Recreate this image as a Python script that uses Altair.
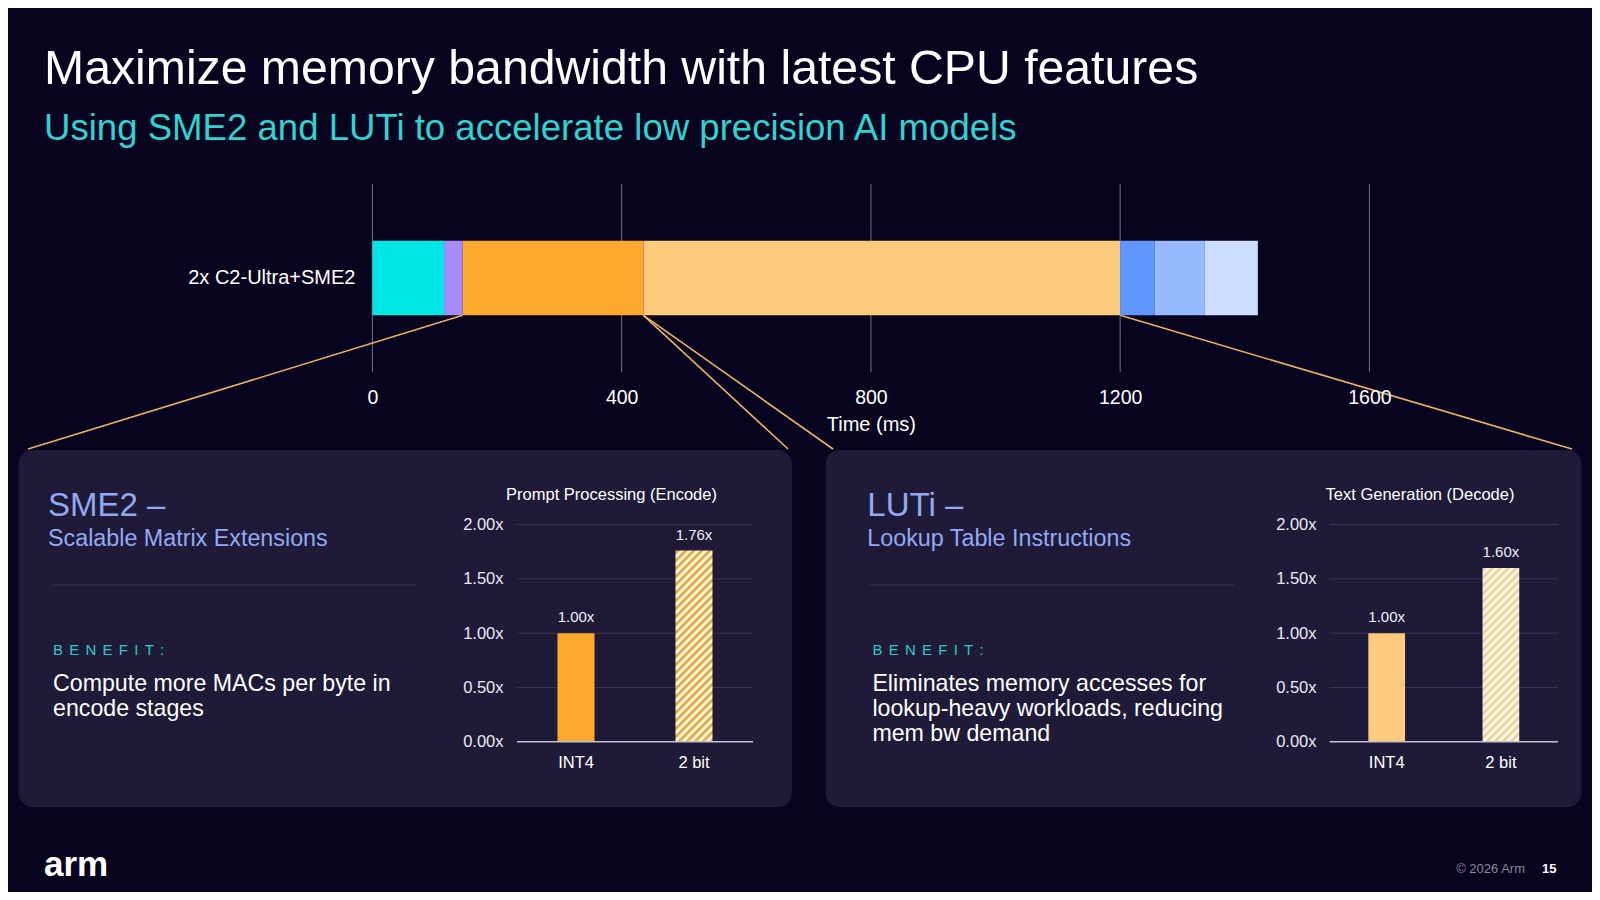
import math
import altair as alt
import pandas as pd

# ---------------- data ----------------
seg_names = ["Stage A", "Stage B", "Encode", "Decode", "Stage E", "Stage F", "Stage G"]
seg_ms = [115, 30, 290, 765, 55, 81, 85]
row_label = "2x C2-Ultra+SME2"
time_ticks = [0, 400, 800, 1200, 1600]

categories = ["INT4", "2 bit"]
encode_speedup = [1.00, 1.76]
decode_speedup = [1.00, 1.60]
speed_ticks = [0.0, 0.5, 1.0, 1.5, 2.0]

# ---------------- style ----------------
FONT = "Liberation Sans"
BG = "#08041F"
PANEL = "#1E1A37"
HEAD = "#94A9F3"
TEAL = "#2CCBCB"
SUB = "#2FD3D0"
WHITE = "#FFFFFF"
seg_colors = ["#00E6E6", "#A48CF9", "#FBA92F", "#FCCB7E", "#6196FE", "#97B9FE", "#CCDDFF"]

W, H = 1584, 884
ONE = alt.Data(values=[{"k": 0}])

# top timeline geometry (canvas px)
TX0, TX1 = 364.4, 1361.4
BAR_Y0, BAR_Y1 = 232.8, 307.3
px_per_ms = (TX1 - TX0) / 1600.0

# small chart geometry
SY0, SY2 = 733.8, 516.5          # pixel of 0.00x and 2.00x
px_per_unit = (SY0 - SY2) / 2.0


def txt(s, x, y, size, color, align="left", baseline="middle", weight="normal", lh=None):
    kw = dict(text=s, fontSize=size, color=color, align=align, baseline=baseline,
              fontWeight=weight, font=FONT)
    if lh:
        kw["lineHeight"] = lh
    return alt.Chart(ONE).mark_text(**kw).encode(x=alt.value(x), y=alt.value(y))


def hatch(w, h, c1, c2, period=8.0):
    a = w / h
    s = (a + 1) / (a * a + 1)
    n = (w + h) / period
    stops = []
    for i in range(int(math.ceil(n))):
        o0 = min(i / n, 1.0)
        o1 = min((i + 0.5) / n, 1.0)
        o2 = min((i + 1) / n, 1.0)
        stops += [(o0, c1), (o1, c1), (o1, c2), (o2, c2)]
    return alt.LinearGradient(
        gradient="linear", x1=0, y1=0, x2=a * s, y2=s,
        stops=[alt.GradientStop(offset=o, color=c) for o, c in stops])


# ---------------- panels ----------------
def panel(x0, x1):
    return alt.Chart(ONE).mark_rect(cornerRadius=14, color=PANEL).encode(
        x=alt.value(x0), x2=alt.value(x1), y=alt.value(442), y2=alt.value(799))


def divider(x0, x1):
    return alt.Chart(ONE).mark_rule(color="#3A3559", strokeWidth=1.2).encode(
        x=alt.value(x0), x2=alt.value(x1), y=alt.value(577))


# ---------------- top timeline ----------------
seg_df = pd.DataFrame({"seg": seg_names, "ms": seg_ms, "idx": list(range(len(seg_ms))),
                       "row": [row_label] * len(seg_ms)})
ends = pd.Series(seg_ms).cumsum().tolist()
conn_targets_px = [20.0, 780.0, 825.0, 1564.0]
conn_df = pd.DataFrame({
    "from_ms": [ends[1], ends[2], ends[2], ends[3]],
    "to_ms": [(p - TX0) / px_per_ms for p in conn_targets_px],
})
tick_df = pd.DataFrame({"t": time_ticks})

xs_top = alt.Scale(domain=[0, 1600], range=[TX0, TX1], nice=False, zero=False)
ys_top = alt.Scale(domain=[row_label], range=[BAR_Y0, BAR_Y1], paddingInner=0, paddingOuter=0)

top_xaxis = alt.Axis(orient="bottom", offset=389 - H, values=time_ticks, format="d",
                     ticks=False, tickSize=0, domain=False, grid=False, labelPadding=0,
                     labelBaseline="middle", labelFontSize=19.5, labelColor=WHITE,
                     labelFont=FONT, labelFlush=False, labelOverlap=False, zindex=2,
                     title="Time (ms)", titleFontSize=20, titleFontWeight="normal",
                     titleColor=WHITE, titleFont=FONT, titleY=27.5,
                     titleBaseline="middle")
top_yaxis = alt.Axis(orient="left", offset=-347, ticks=False, tickSize=0, domain=False,
                     grid=False, labelPadding=0, labelAlign="right", zindex=2,
                     labelBaseline="middle", labelFontSize=20, labelColor=WHITE,
                     labelFont=FONT, title=None)

top_grid = alt.Chart(tick_df).mark_rule(color="#75728A", strokeWidth=1).encode(
    x=alt.X("t:Q", scale=xs_top, axis=top_xaxis),
    y=alt.value(176), y2=alt.value(364))

top_bar = alt.Chart(seg_df).mark_bar().encode(
    x=alt.X("ms:Q", stack="zero", scale=xs_top, axis=top_xaxis),
    y=alt.Y("row:N", scale=ys_top, axis=top_yaxis),
    color=alt.Color("seg:N", scale=alt.Scale(domain=seg_names, range=seg_colors), legend=None),
    order=alt.Order("idx:Q"),
)

connectors = alt.Chart(conn_df).mark_rule(color="#E9B266", strokeWidth=1.6).encode(
    x=alt.X("from_ms:Q", scale=xs_top, axis=top_xaxis),
    x2="to_ms:Q",
    y=alt.value(BAR_Y1), y2=alt.value(441))

top_layer = alt.layer(top_grid, connectors, top_bar)


# ---------------- small charts ----------------
def small_chart(values, x0, x1, label_right, bar_w, solid, stripe_c, stripe_bg):
    df = pd.DataFrame({"cat": categories, "val": values})
    xs = alt.Scale(domain=categories, range=[x0, x1], paddingInner=0, paddingOuter=0)
    ys = alt.Scale(domain=[0, 2], range=[SY0, SY2], nice=False, zero=True)
    xaxis = alt.Axis(orient="bottom", offset=754 - H, ticks=False, tickSize=0, domain=False,
                     grid=False, labelPadding=0, labelBaseline="middle", labelFontSize=16.5,
                     labelColor=WHITE, labelFont=FONT, labelAngle=0, title=None, zindex=2)
    yaxis = alt.Axis(orient="left", offset=-label_right, values=speed_ticks, ticks=False,
                     tickSize=0, domain=False, grid=False, labelPadding=0,
                     labelAlign="right", labelBaseline="middle", labelFontSize=16.5,
                     labelColor="#ECEAF4", labelFont=FONT, labelOverlap=False, zindex=2,
                     labelExpr="format(datum.value, '.2f') + 'x'", title=None)
    X = alt.X("cat:N", scale=xs, axis=xaxis, sort=categories)
    Y = alt.Y("val:Q", scale=ys, axis=yaxis)
    grid = alt.Chart(pd.DataFrame({"val": speed_ticks[1:]})).mark_rule(
        color="#3A3657", strokeWidth=1).encode(
        y=Y, x=alt.value(x0), x2=alt.value(x1))
    base = alt.Chart(pd.DataFrame({"val": [0.0]})).mark_rule(
        color="#C4C0D4", strokeWidth=1.5).encode(
        y=Y, x=alt.value(x0), x2=alt.value(x1))
    b1 = alt.Chart(df).transform_filter(alt.datum.cat == categories[0]).mark_bar(
        size=bar_w, color=solid).encode(x=X, y=Y)
    h2 = values[1] * px_per_unit
    b2 = alt.Chart(df).transform_filter(alt.datum.cat == categories[1]).mark_bar(
        size=bar_w, fill=hatch(bar_w, h2, stripe_c, stripe_bg)).encode(x=X, y=Y)
    lab = alt.Chart(df).transform_calculate(
        lab="format(datum.val, '.2f') + 'x'").mark_text(
        dy=-16, fontSize=15, color="#EEEEF5", font=FONT, baseline="middle").encode(
        x=X, y=Y, text="lab:N")
    return alt.layer(grid, b1, b2, base, lab)


left_chart = small_chart(encode_speedup, 509, 745, 495, 37, "#FBA92F", "#E8AE4C", "#FFF4D8")
right_chart = small_chart(decode_speedup, 1321.6, 1550, 1308, 36.7, "#FCCB7E", "#F3D29A", "#FFF8EA")

sep = "\u2004\u200a"
benefit = sep.join(list("BENEFIT:"))

layers = [
    panel(10.4, 784), panel(817.5, 1573.6),
    divider(44, 408), divider(861, 1226),
    top_layer,
    left_chart, right_chart,
    txt("Maximize memory bandwidth with latest CPU features", 36, 75.7, 48.2, WHITE,
        baseline="alphabetic"),
    txt("Using SME2 and LUTi to accelerate low precision AI models", 36, 131.8, 36.6, SUB,
        baseline="alphabetic"),
    # left panel text
    txt("SME2 \u2013", 40, 498, 33, HEAD),
    txt("Scalable Matrix Extensions", 40, 531, 23.3, HEAD),
    txt(benefit, 45, 642, 15, TEAL),
    txt(["Compute more MACs per byte in", "encode stages"], 45, 683, 23.2, WHITE,
        baseline="alphabetic", lh=25),
    txt("Prompt Processing (Encode)", 603.5, 487, 16.5, WHITE, align="center"),
    # right panel text
    txt("LUTi \u2013", 859.3, 498, 33, HEAD),
    txt("Lookup Table Instructions", 859.3, 531, 23.3, HEAD),
    txt(benefit, 864.4, 642, 15, TEAL),
    txt(["Eliminates memory accesses for", "lookup-heavy workloads, reducing",
         "mem bw demand"], 864.4, 683, 23.2, WHITE, baseline="alphabetic", lh=25),
    txt("Text Generation (Decode)", 1412, 487, 16.5, WHITE, align="center"),
    # footer
    txt("arm", 36, 868, 35, WHITE, baseline="alphabetic", weight="bold"),
    txt("\u00a9 2026 Arm", 1517, 861, 13, "#8A879C", align="right"),
    txt("15", 1534, 861, 13, WHITE, weight="bold"),
]

chart = alt.layer(*layers).resolve_scale(
    x="independent", y="independent", color="independent"
).properties(
    width=W, height=H, padding=0, background=BG,
    autosize=alt.AutoSizeParams(type="none"),
).configure_view(stroke=None).configure_axis(grid=False)

chart.save("out.html", embed_options={"renderer": "svg", "actions": False})
